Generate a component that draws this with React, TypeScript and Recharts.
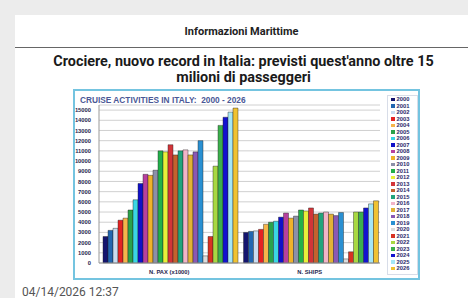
import React from 'react'
import { BarChart, Bar, XAxis, YAxis, CartesianGrid } from 'recharts'

const categories = ['N. PAX (x1000)', 'N. SHIPS']

const years = [
  '2000', '2001', '2002', '2003', '2004', '2005', '2006', '2007', '2008',
  '2009', '2010', '2011', '2012', '2013', '2014', '2015', '2016', '2017',
  '2018', '2019', '2020', '2021', '2022', '2023', '2024', '2025', '2026',
]

const paxValues = [
  2600, 3200, 3400, 4200, 4400, 5200, 6200, 7800, 8700, 8600, 9100, 11000, 10900,
  11600, 10600, 11000, 11100, 10600, 10900, 12000, 700, 2600, 9500, 13500, 14300,
  14800, 15200,
]

const shipValues = [
  3000, 3100, 3150, 3300, 3800, 4000, 4100, 4500, 4900, 4400, 4600, 5200, 5100,
  5400, 4800, 4900, 5000, 4800, 4650, 4950, 400, 1100, 5000, 5000, 5400, 5800, 6100,
]

const yTicks = [0, 1000, 2000, 3000, 4000, 5000, 6000, 7000, 8000, 9000, 10000, 11000, 12000, 13000, 14000, 15000]

const colors = [
  '#14146e', '#2266b0', '#c9dcf0', '#e42222', '#f6b54a', '#2aa24a', '#3ad6e4',
  '#1010c8', '#b8409e', '#f0b22a', '#8c90a8', '#22b04a', '#e8f03a', '#d33438',
  '#c4622e', '#22a47c', '#f2b4c8', '#e2b236', '#8a58b4', '#2a90d2', '#dcdcdc',
  '#d83222', '#a8d842', '#3cb04c', '#1212d0', '#a4e6f6', '#f0c232',
]

const chartData = categories.map((name, i) => {
  const row: { [key: string]: string | number } = { name }
  const vals = i === 0 ? paxValues : shipValues
  years.forEach((y, j) => {
    row[y] = vals[j]
  })
  return row
})

const tickStyle = { fontSize: 5.8, fontWeight: 700, fill: '#26264e', fontFamily: 'Liberation Sans' }

export default function App() {
  return (
    <div
      style={{
        position: 'fixed',
        left: 0,
        top: 0,
        width: 468,
        height: 298,
        background: '#ececec',
        overflow: 'hidden',
        fontFamily: 'Roboto',
      }}
    >
      <div style={{ position: 'absolute', left: 15, top: 15, width: 460, height: 290, background: '#fff' }}>
        <div
          style={{
            position: 'absolute',
            left: 0,
            top: 10,
            width: 453,
            textAlign: 'center',
            fontSize: 11,
            fontWeight: 700,
            color: '#222',
          }}
        >
          Informazioni Marittime
        </div>
        <div style={{ position: 'absolute', left: 0, top: 32, width: 460, height: 1, background: '#666' }} />
        <div
          style={{
            position: 'absolute',
            left: 0,
            top: 39,
            width: 457,
            textAlign: 'center',
            fontSize: 14.4,
            lineHeight: '15.5px',
            fontWeight: 700,
            color: '#1a1a1a',
          }}
        >
          Crociere, nuovo record in Italia: previsti quest'anno oltre 15
          <br />
          milioni di passeggeri
        </div>
        <div style={{ position: 'absolute', left: 7, top: 270, fontSize: 12, color: '#555' }}>
          04/14/2026 12:37
        </div>
      </div>

      <div
        style={{
          position: 'absolute',
          left: 73,
          top: 89,
          width: 343,
          height: 187,
          border: '2px solid #74c4e0',
          background: '#fff',
        }}
      >
        <div
          style={{
            position: 'absolute',
            left: 5,
            top: 4,
            fontSize: 8.3,
            fontWeight: 700,
            color: '#4a5896',
            fontFamily: 'Liberation Sans',
            whiteSpace: 'pre',
          }}
        >
          {'CRUISE ACTIVITIES IN ITALY:  2000 - 2026'}
        </div>
        <BarChart
          width={343}
          height={187}
          data={chartData}
          margin={{ top: 14, right: 38, bottom: 3, left: 2 }}
          barGap={0}
          barCategoryGap={4}
        >
          <CartesianGrid vertical={false} stroke="#c4c4c4" strokeWidth={0.8} />
          <XAxis
            dataKey="name"
            height={12}
            tickLine={false}
            axisLine={{ stroke: '#999' }}
            tick={tickStyle}
            tickMargin={1}
            interval={0}
          />
          <YAxis
            width={22}
            domain={[0, 15500]}
            ticks={yTicks}
            interval={0}
            tickLine={false}
            axisLine={{ stroke: '#999' }}
            tick={tickStyle}
            tickMargin={2}
          />
          {years.map((y, i) => (
            <Bar
              key={y}
              dataKey={y}
              fill={colors[i]}
              stroke="#222"
              strokeOpacity={0.7}
              strokeWidth={0.6}
              isAnimationActive={false}
            />
          ))}
        </BarChart>
        <div
          style={{
            position: 'absolute',
            left: 312,
            top: 4,
            width: 29,
            height: 178,
            border: '1px solid #d8dde8',
          }}
        >
          {years.map((y, i) => (
            <div
              key={y}
              style={{
                display: 'flex',
                alignItems: 'center',
                height: 6.5,
                marginLeft: 3,
                fontSize: 5.8,
                fontWeight: 700,
                color: '#2a2a6a',
                fontFamily: 'Liberation Sans',
                lineHeight: '6.5px',
              }}
            >
              <span style={{ width: 3.5, height: 3.5, background: colors[i], marginRight: 2, display: 'inline-block' }} />
              {y}
            </div>
          ))}
        </div>
      </div>
    </div>
  )
}
